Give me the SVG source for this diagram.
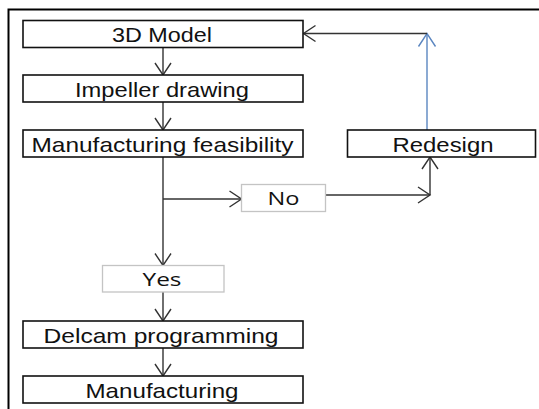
<svg xmlns="http://www.w3.org/2000/svg" width="539" height="409" viewBox="0 0 539 409">
<defs>
<style>
.box{fill:#fff;stroke:#111;stroke-width:1.6}
.lbox{fill:#fff;stroke:#c4c4c4;stroke-width:1.3}
.t{font-family:"Liberation Sans",Arial,sans-serif;font-size:21px;fill:#111;text-anchor:middle}
.t2{font-family:"Open Sans","Liberation Sans",sans-serif;font-size:19px;fill:#111;text-anchor:middle}
.c{fill:none;stroke:#333;stroke-width:1.4}
.cb{fill:none;stroke:#5b86c0;stroke-width:1.4}
</style>
<marker id="ah" viewBox="-14 -10 16 20" refX="0" refY="0" markerWidth="16" markerHeight="20" markerUnits="userSpaceOnUse" orient="auto">
<path d="M-12,-8 L0,0 L-12,8" fill="none" stroke="#333" stroke-width="1.4"/>
</marker>
<marker id="ahb" viewBox="-14 -10 16 20" refX="0" refY="0" markerWidth="16" markerHeight="20" markerUnits="userSpaceOnUse" orient="auto">
<path d="M-13,-8.5 L0,0 L-13,8.5" fill="none" stroke="#5b86c0" stroke-width="1.4"/>
</marker>
</defs>
<rect width="539" height="409" fill="#fff"/>
<path d="M8.5,409 L8.5,9.5 L539,9.5" fill="none" stroke="#000" stroke-width="2"/>
<g id="connectors">
<path class="c" d="M163,48 L163,75" marker-end="url(#ah)"/>
<path class="c" d="M163,102 L163,130" marker-end="url(#ah)"/>
<path class="c" d="M163,157 L163,265.5" marker-end="url(#ah)"/>
<path class="c" d="M163,199 L241.5,199" marker-end="url(#ah)"/>
<path class="c" d="M325,195 L430,195" marker-end="url(#ah)"/>
<path class="c" d="M430,195 L430,157" marker-end="url(#ah)"/>
<path class="cb" d="M427,130 L427,33.5" marker-end="url(#ahb)"/>
<path class="c" d="M427,33.5 L303.5,33.5" marker-end="url(#ah)"/>
<path class="c" d="M163,292 L163,321" marker-end="url(#ah)"/>
<path class="c" d="M163,348 L163,376" marker-end="url(#ah)"/>
</g>
<g id="model3d"><rect class="box" x="23" y="20.5" width="280" height="27"/><text class="t" x="162" y="42" textLength="100" lengthAdjust="spacingAndGlyphs">3D Model</text></g>
<g id="impeller"><rect class="box" x="23" y="75" width="280" height="27"/><text class="t" x="162" y="96.5" textLength="174" lengthAdjust="spacingAndGlyphs">Impeller drawing</text></g>
<g id="feasibility"><rect class="box" x="23" y="130" width="280" height="27"/><text class="t" x="162.5" y="151.5" textLength="262" lengthAdjust="spacingAndGlyphs">Manufacturing feasibility</text></g>
<g id="redesign"><rect class="box" x="347.5" y="130" width="188" height="27"/><text class="t" x="443" y="151.5" textLength="101" lengthAdjust="spacingAndGlyphs">Redesign</text></g>
<g id="no"><rect class="lbox" x="241.5" y="184.5" width="84" height="27"/><text class="t2" x="283.5" y="205" textLength="32" lengthAdjust="spacingAndGlyphs">No</text></g>
<g id="yes"><rect class="lbox" x="102.5" y="265.5" width="121.5" height="26.5"/><text class="t2" x="162" y="286" textLength="39" lengthAdjust="spacingAndGlyphs">Yes</text></g>
<g id="delcam"><rect class="box" x="23" y="321" width="280" height="27"/><text class="t" x="161" y="342.5" textLength="235" lengthAdjust="spacingAndGlyphs">Delcam programming</text></g>
<g id="manufacturing"><rect class="box" x="23" y="376" width="280" height="27"/><text class="t" x="162" y="397.5" textLength="153" lengthAdjust="spacingAndGlyphs">Manufacturing</text></g>
</svg>
